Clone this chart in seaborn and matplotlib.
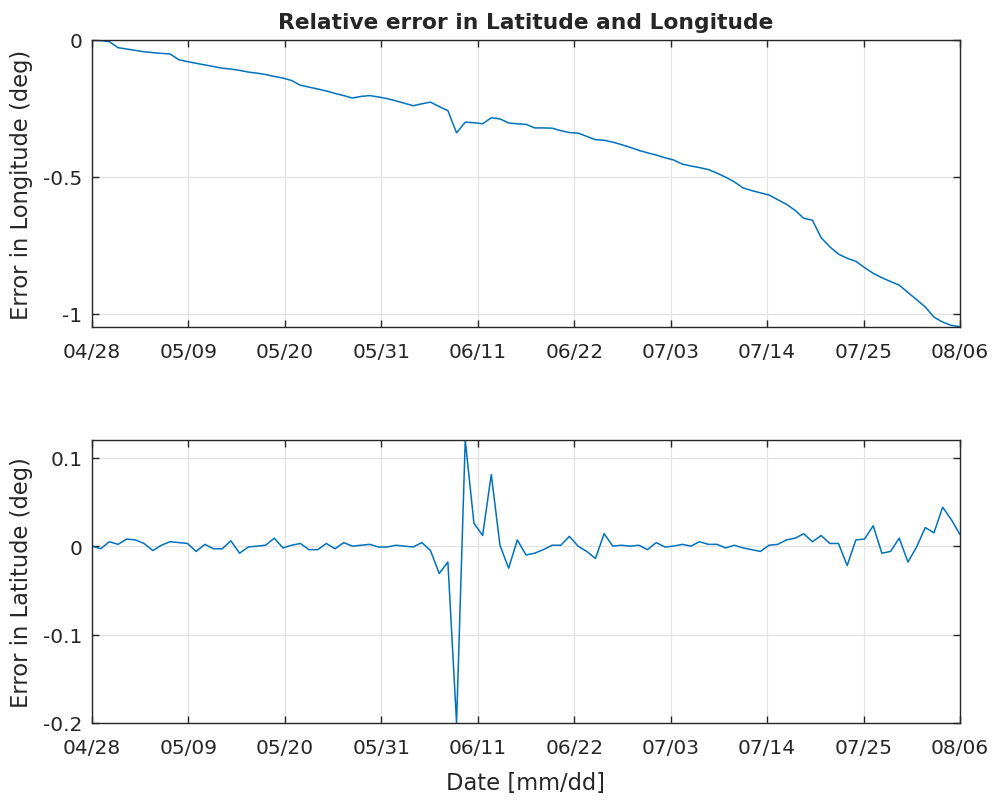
import numpy as np
import pandas as pd
import matplotlib
matplotlib.use("Agg")
import matplotlib.pyplot as plt
import seaborn as sns

# ---------------- data ----------------
tick_labels = ["04/28", "05/09", "05/20", "05/31", "06/11",
               "06/22", "07/03", "07/14", "07/25", "08/06"]

days = list(range(0, 101))  # days since 04/28

lon_err = [0.000, -0.002, -0.006, -0.028, -0.033, -0.038, -0.043, -0.046, -0.049, -0.051,
           -0.072, -0.079, -0.085, -0.091, -0.097, -0.103, -0.106, -0.111, -0.117, -0.121,
           -0.126, -0.133, -0.139, -0.148, -0.165, -0.172, -0.179, -0.186, -0.195, -0.203,
           -0.212, -0.206, -0.203, -0.208, -0.214, -0.222, -0.231, -0.240, -0.233, -0.227,
           -0.243, -0.258, -0.339, -0.300, -0.302, -0.306, -0.284, -0.288, -0.303, -0.306,
           -0.308, -0.321, -0.321, -0.322, -0.331, -0.338, -0.340, -0.352, -0.364, -0.366,
           -0.373, -0.382, -0.392, -0.403, -0.412, -0.420, -0.430, -0.438, -0.453, -0.460,
           -0.466, -0.473, -0.486, -0.501, -0.518, -0.540, -0.550, -0.558, -0.566, -0.583,
           -0.600, -0.622, -0.651, -0.658, -0.722, -0.755, -0.782, -0.797, -0.808, -0.831,
           -0.852, -0.868, -0.882, -0.895, -0.922, -0.948, -0.975, -1.012, -1.030, -1.042,
           -1.047]

lat_err = [0.000, -0.003, 0.005, 0.002, 0.008, 0.007, 0.003, -0.005, 0.001, 0.005,
           0.004, 0.003, -0.006, 0.002, -0.003, -0.003, 0.006, -0.008, -0.001, 0.000,
           0.001, 0.009, -0.002, 0.001, 0.003, -0.004, -0.004, 0.003, -0.003, 0.004,
           0.000, 0.001, 0.002, -0.001, -0.001, 0.001, 0.000, -0.001, 0.004, -0.005,
           -0.031, -0.018, -0.200, 0.120, 0.026, 0.012, 0.081, 0.001, -0.025, 0.007,
           -0.010, -0.008, -0.004, 0.001, 0.001, 0.011, 0.000, -0.006, -0.014, 0.014,
           0.000, 0.001, 0.000, 0.001, -0.004, 0.004, -0.001, 0.000, 0.002, 0.000,
           0.005, 0.002, 0.002, -0.002, 0.001, -0.002, -0.004, -0.006, 0.001, 0.002,
           0.007, 0.009, 0.014, 0.005, 0.012, 0.003, 0.003, -0.022, 0.007, 0.008,
           0.023, -0.008, -0.006, 0.009, -0.018, -0.001, 0.021, 0.015, 0.044, 0.030,
           0.013]

lon_ticks = [-1, -0.5, 0]
lon_tick_labels = ["-1", "-0.5", "0"]
lat_ticks = [-0.2, -0.1, 0, 0.1]
lat_tick_labels = ["-0.2", "-0.1", "0", "0.1"]

df = pd.DataFrame({"day": days, "lon": lon_err, "lat": lat_err})

# ---------------- style ----------------
sns.set_theme(style="white")
plt.rcParams["font.family"] = ["DejaVu Sans"]
plt.rcParams["axes.unicode_minus"] = False

dark = "#262626"
line_color = "#0072BD"
grid_color = "#e3e3e3"

fig = plt.figure(figsize=(9.94, 8.04), dpi=100)
fig.patch.set_facecolor("white")

ax1 = fig.add_axes([92/994, 1-328/804, 868/994, 287/804])
ax2 = fig.add_axes([92/994, 1-724/804, 868/994, 283/804])

sns.lineplot(data=df, x="day", y="lon", ax=ax1, color=line_color, linewidth=1.1)
sns.lineplot(data=df, x="day", y="lat", ax=ax2, color=line_color, linewidth=1.1)

xticks = np.linspace(0, 100, 10)
for ax, yt, ytl, ylim, ylab in [
    (ax1, lon_ticks, lon_tick_labels, (-1.048, 0), "Error in Longitude (deg)"),
    (ax2, lat_ticks, lat_tick_labels, (-0.2, 0.12), "Error in Latitude (deg)"),
]:
    ax.set_xlim(0, 100)
    ax.set_ylim(*ylim)
    ax.set_xticks(xticks)
    ax.set_xticklabels(tick_labels)
    ax.set_yticks(yt)
    ax.set_yticklabels(ytl)
    ax.grid(True, color=grid_color, linewidth=0.9)
    ax.set_axisbelow(True)
    for s in ax.spines.values():
        s.set_visible(True)
        s.set_color(dark)
        s.set_linewidth(1.0)
    ax.tick_params(axis="both", which="both", direction="in", length=5, width=1.0,
                   color=dark, labelcolor=dark, labelsize=14.5,
                   top=True, right=True, bottom=True, left=True)
    ax.tick_params(axis="x", pad=11)
    ax.tick_params(axis="y", pad=7)
    ax.set_ylabel(ylab, fontsize=16.3, color=dark)
    ax.yaxis.set_label_coords(-0.068, 0.5)
    ax.set_xlabel("")

ax2.set_xlabel("Date [mm/dd]", fontsize=16.3, color=dark, labelpad=10)
ax1.set_title("Relative error in Latitude and Longitude", fontsize=15.7,
              fontweight="bold", color=dark, pad=8.5)

fig.savefig("out.png", dpi=100, facecolor="white")
